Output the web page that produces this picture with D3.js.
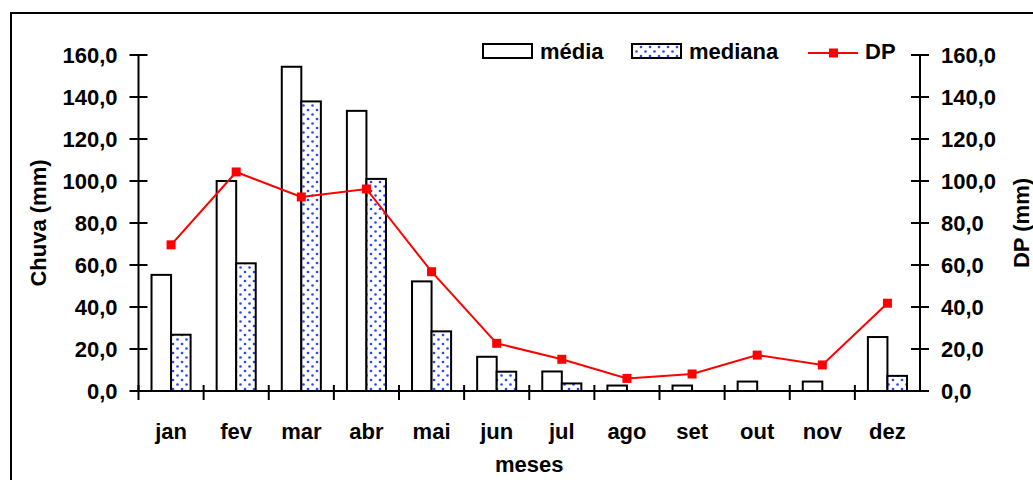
<!DOCTYPE html>
<html>
<head>
<meta charset="utf-8">
<script src="https://cdn.jsdelivr.net/npm/d3@7"></script>
<style>
  body { margin: 0; background: #fff; }
  svg text { font-family: Arial, "Liberation Sans", sans-serif; font-weight: bold; fill: #000; }
</style>
</head>
<body>
<div id="svgContainer"></div>
<script>
var width = 1033;
var height = 480;

// dados
var months = ["jan", "fev", "mar", "abr", "mai", "jun", "jul", "ago", "set", "out", "nov", "dez"];
var media = [55.3, 100.0, 154.4, 133.4, 52.2, 16.3, 9.3, 2.6, 2.6, 4.5, 4.5, 25.7];
var mediana = [26.8, 60.8, 137.9, 101.0, 28.4, 9.2, 3.6, 0, 0, 0, 0, 7.2];
var dp = [69.6, 104.3, 92.4, 96.2, 56.8, 22.7, 15.1, 6.0, 8.1, 17.1, 12.4, 41.8];
var yTicks = [0, 20, 40, 60, 80, 100, 120, 140, 160];

var plot = { left: 138.5, right: 920, top: 55, bottom: 391 };

var fmt = function (v) { return d3.format(".1f")(v).replace(".", ","); };

var svg = d3.select("#svgContainer")
  .append("svg")
  .attr("width", width)
  .attr("height", height);

// padrao de pontos azuis da mediana
var pattern = svg.append("defs")
  .append("pattern")
  .attr("id", "dots")
  .attr("patternUnits", "userSpaceOnUse")
  .attr("width", 9)
  .attr("height", 9);
pattern.append("rect").attr("width", 9).attr("height", 9).attr("fill", "#fff");
pattern.append("circle").attr("cx", 2).attr("cy", 2).attr("r", 1.3).attr("fill", "#2b45ff");
pattern.append("circle").attr("cx", 6.5).attr("cy", 6.5).attr("r", 1.3).attr("fill", "#2b45ff");

// moldura externa
svg.append("rect")
  .attr("x", 11)
  .attr("y", 13)
  .attr("width", 1200)
  .attr("height", 700)
  .attr("fill", "none")
  .attr("stroke", "#000")
  .attr("stroke-width", 2);

var x = d3.scaleBand()
  .domain(months)
  .range([plot.left, plot.right])
  .padding(0);

var y = d3.scaleLinear()
  .domain([0, 160])
  .range([plot.bottom, plot.top]);

var bw = x.bandwidth();
var barW = bw * 0.3;
var offset = (bw - 2 * barW) / 2;

// barras media
svg.append("g").selectAll("rect")
  .data(media)
  .enter()
  .append("rect")
  .attr("x", function (d, i) { return x(months[i]) + offset; })
  .attr("y", function (d) { return y(d); })
  .attr("width", barW)
  .attr("height", function (d) { return plot.bottom - y(d); })
  .attr("fill", "#fff")
  .attr("stroke", "#000")
  .attr("stroke-width", 2);

// barras mediana
svg.append("g").selectAll("rect")
  .data(mediana)
  .enter()
  .append("rect")
  .attr("x", function (d, i) { return x(months[i]) + offset + barW; })
  .attr("y", function (d) { return y(d); })
  .attr("width", barW)
  .attr("height", function (d) { return plot.bottom - y(d); })
  .attr("fill", "url(#dots)")
  .attr("stroke", function (d) { return d > 0 ? "#000" : "none"; })
  .attr("stroke-width", 2);

// eixos
var tickOut = 9;
var tickIn = 9;

var leftAxis = svg.append("g").attr("transform", "translate(" + plot.left + ",0)");
leftAxis.append("line")
  .attr("y1", plot.top).attr("y2", plot.bottom)
  .attr("stroke", "#000").attr("stroke-width", 2);
leftAxis.selectAll("line.tick")
  .data(yTicks)
  .enter()
  .append("line")
  .attr("class", "tick")
  .attr("x1", -tickOut).attr("x2", tickIn)
  .attr("y1", function (d) { return y(d); })
  .attr("y2", function (d) { return y(d); })
  .attr("stroke", "#000").attr("stroke-width", 2);
leftAxis.selectAll("text")
  .data(yTicks)
  .enter()
  .append("text")
  .attr("x", -21)
  .attr("y", function (d) { return y(d) + 8; })
  .attr("text-anchor", "end")
  .style("font-size", "22px")
  .text(fmt);

var rightAxis = svg.append("g").attr("transform", "translate(" + plot.right + ",0)");
rightAxis.append("line")
  .attr("y1", plot.top).attr("y2", plot.bottom)
  .attr("stroke", "#000").attr("stroke-width", 2);
rightAxis.selectAll("line.tick")
  .data(yTicks)
  .enter()
  .append("line")
  .attr("class", "tick")
  .attr("x1", -tickIn).attr("x2", tickOut)
  .attr("y1", function (d) { return y(d); })
  .attr("y2", function (d) { return y(d); })
  .attr("stroke", "#000").attr("stroke-width", 2);
rightAxis.selectAll("text")
  .data(yTicks)
  .enter()
  .append("text")
  .attr("x", 21)
  .attr("y", function (d) { return y(d) + 8; })
  .style("font-size", "22px")
  .text(fmt);

// eixo x com marcas nos limites das categorias
var bottomAxis = svg.append("g");
bottomAxis.append("line")
  .attr("x1", plot.left).attr("x2", plot.right)
  .attr("y1", plot.bottom).attr("y2", plot.bottom)
  .attr("stroke", "#000").attr("stroke-width", 2);
bottomAxis.selectAll("line.tick")
  .data(months)
  .enter()
  .append("line")
  .attr("class", "tick")
  .attr("x1", function (d) { return x(d); })
  .attr("x2", function (d) { return x(d); })
  .attr("y1", plot.bottom - 6).attr("y2", plot.bottom + 9)
  .attr("stroke", "#000").attr("stroke-width", 2);
bottomAxis.selectAll("text")
  .data(months)
  .enter()
  .append("text")
  .attr("x", function (d) { return x(d) + bw / 2; })
  .attr("y", 439)
  .attr("text-anchor", "middle")
  .style("font-size", "22px")
  .text(function (d) { return d; });

// linha DP
var line = d3.line()
  .x(function (d, i) { return x(months[i]) + bw / 2; })
  .y(function (d) { return y(d); });

svg.append("path")
  .datum(dp)
  .attr("d", line)
  .attr("fill", "none")
  .attr("stroke", "#ff0000")
  .attr("stroke-width", 2);

svg.append("g").selectAll("rect")
  .data(dp)
  .enter()
  .append("rect")
  .attr("x", function (d, i) { return x(months[i]) + bw / 2 - 4.5; })
  .attr("y", function (d) { return y(d) - 4.5; })
  .attr("width", 9)
  .attr("height", 9)
  .attr("fill", "#ff0000");

// titulos dos eixos
svg.append("text")
  .attr("transform", "translate(46," + (plot.top + plot.bottom) / 2 + ") rotate(-90)")
  .attr("text-anchor", "middle")
  .style("font-size", "22px")
  .text("Chuva (mm)");

svg.append("text")
  .attr("transform", "translate(1029," + (plot.top + plot.bottom) / 2 + ") rotate(-90)")
  .attr("text-anchor", "middle")
  .style("font-size", "22px")
  .text("DP (mm)");

svg.append("text")
  .attr("x", (plot.left + plot.right) / 2)
  .attr("y", 472)
  .attr("text-anchor", "middle")
  .style("font-size", "22px")
  .text("meses");

// legenda
var legend = svg.append("g");
legend.append("rect")
  .attr("x", 483).attr("y", 44).attr("width", 49).attr("height", 14)
  .attr("fill", "#fff").attr("stroke", "#000").attr("stroke-width", 2);
legend.append("text")
  .attr("x", 540).attr("y", 59)
  .style("font-size", "22px")
  .text("média");
legend.append("rect")
  .attr("x", 632).attr("y", 44).attr("width", 49).attr("height", 14)
  .attr("fill", "url(#dots)").attr("stroke", "#000").attr("stroke-width", 2);
legend.append("text")
  .attr("x", 689).attr("y", 59)
  .style("font-size", "22px")
  .text("mediana");
legend.append("line")
  .attr("x1", 808).attr("x2", 858).attr("y1", 53).attr("y2", 53)
  .attr("stroke", "#ff0000").attr("stroke-width", 2);
legend.append("rect")
  .attr("x", 829).attr("y", 48.5).attr("width", 9).attr("height", 9)
  .attr("fill", "#ff0000");
legend.append("text")
  .attr("x", 865).attr("y", 59)
  .style("font-size", "22px")
  .text("DP");
</script>
</body>
</html>
